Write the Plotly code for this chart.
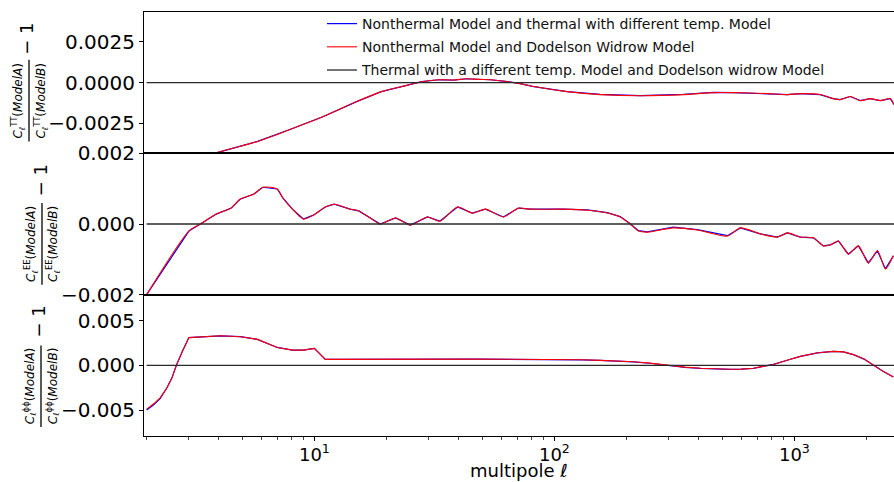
import plotly.graph_objects as go
from plotly.subplots import make_subplots

# ---------------- data ----------------
series_names = [
    "Nonthermal Model and thermal with different temp. Model",
    "Nonthermal Model and Dodelson Widrow Model",
    "Thermal with a different temp. Model and Dodelson widrow Model",
]

# TT panel
l_tt = [2, 3, 3.9, 5.8, 7.9, 10.9, 15, 19, 24, 28, 33, 38, 43, 48, 54, 64, 72, 82, 113, 155,
        228, 345, 460, 557, 772, 935, 1060, 1280, 1450, 1550, 1710, 1880, 2070, 2280, 2510, 2600]
tt_red = [-0.0060, -0.0050, -0.0043, -0.0036, -0.00287, -0.00207, -0.00116, -0.00055, -0.00018,
          0.00006, 0.00018, 0.00016, 0.00024, 0.00020, 0.00018, 0.00006, -0.00006, -0.00024,
          -0.00055, -0.00073, -0.00080, -0.00073, -0.00061, -0.00061, -0.00067, -0.00073,
          -0.00067, -0.00073, -0.00098, -0.00104, -0.00085, -0.00110, -0.00098, -0.00110,
          -0.00098, -0.00134]
tt_blue = [-0.0060, -0.0050, -0.0043, -0.0036, -0.00287, -0.00207, -0.00116, -0.00055, -0.00018,
           0.00006, 0.00018, 0.00016, 0.00024, 0.00020, 0.00018, 0.00006, -0.00006, -0.00024,
           -0.00055, -0.00072, -0.00079, -0.00072, -0.00060, -0.00061, -0.00067, -0.00073,
           -0.00067, -0.00073, -0.00098, -0.00104, -0.00085, -0.00110, -0.00098, -0.00110,
           -0.00098, -0.00134]
l_tt_k = [2, 10, 100, 200, 240, 300, 340, 380, 600, 1000, 2600]
tt_black = [0.0, 0.0, 0.0, 0.0, 0.00003, 0.0, 0.00004, 0.0, 0.0, 0.00001, 0.0]

# EE panel
l_ee = [2, 3, 3.35, 3.9, 4.5, 4.9, 5.6, 6.1, 7.0, 7.4, 8.1, 9.0, 9.9, 11.1, 12.1, 14.1, 15.3,
        17.1, 18.8, 21.8, 25.1, 29.6, 33.3, 39.5, 45.5, 51.6, 61.3, 70.8, 79.4, 109, 137, 166,
        188, 207, 224, 244, 313, 394, 526, 596, 721, 849, 935, 1059, 1200, 1321, 1413, 1524,
        1679, 1849, 2033, 2218, 2395, 2585]
ee_red = [-0.00200, -0.00020, 0.0, 0.00028, 0.00045, 0.00070, 0.00085, 0.00104, 0.00099,
          0.00073, 0.00042, 0.00014, 0.00025, 0.00048, 0.00056, 0.00042, 0.00037, 0.00017,
          0.0, 0.00017, -0.00003, 0.00020, 0.00008, 0.00048, 0.00031, 0.00042, 0.00020,
          0.00045, 0.00042, 0.00042, 0.00039, 0.00031, 0.00020, 0.0, -0.00020, -0.00023,
          -0.00011, -0.00017, -0.00034, -0.00011, -0.00028, -0.00037, -0.00025, -0.00037,
          -0.00039, -0.00062, -0.00059, -0.00048, -0.00085, -0.00062, -0.00110, -0.00076,
          -0.00127, -0.00090]
ee_blue = [-0.00200, -0.00020, 0.0, 0.00028, 0.00045, 0.00070, 0.00085, 0.00104, 0.00099,
           0.00073, 0.00042, 0.00014, 0.00025, 0.00048, 0.00056, 0.00042, 0.00037, 0.00017,
           0.0, 0.00017, -0.00003, 0.00020, 0.00008, 0.00048, 0.00031, 0.00042, 0.00020,
           0.00045, 0.00042, 0.00042, 0.00040, 0.00032, 0.00021, 0.00001, -0.00019, -0.00022,
           -0.00009, -0.00016, -0.00033, -0.00011, -0.00028, -0.00037, -0.00025, -0.00037,
           -0.00039, -0.00062, -0.00059, -0.00048, -0.00085, -0.00062, -0.00110, -0.00076,
           -0.00127, -0.00090]
l_ee_k = [2, 10, 100, 1000, 2600]
ee_black = [0.0, 0.0, 0.0, 0.0, 0.0]

# phi-phi panel
l_pp = [2, 2.14, 2.28, 2.43, 2.55, 2.66, 2.81, 3, 4.06, 4.92, 5.79, 7.0, 8.1, 9.0, 10, 11.1,
        48, 104, 130, 155, 180, 213, 250, 296, 350, 406, 470, 541, 600, 675, 740, 818, 940,
        1059, 1250, 1454, 1600, 1762, 1950, 2134, 2350, 2585]
pp_red = [-0.0049, -0.0043, -0.0036, -0.0025, -0.0014, 0.0, 0.0015, 0.0031, 0.0033, 0.0032,
          0.0029, 0.0020, 0.0017, 0.0017, 0.0019, 0.00067, 0.00070, 0.00067, 0.00063,
          0.00056, 0.00050, 0.00040, 0.00025, 0.0, -0.00020, -0.00033, -0.00040, -0.00044,
          -0.00042, -0.00033, -0.00012, 0.0001, 0.0006, 0.0010, 0.0014, 0.00156, 0.0015,
          0.0012, 0.0007, 0.0, -0.0007, -0.0013]
pp_blue = [-0.0050, -0.0044, -0.0037, -0.0025, -0.0014, 0.0, 0.0015, 0.0031, 0.0033, 0.0032,
           0.0029, 0.0020, 0.0017, 0.0017, 0.0019, 0.00067, 0.00069, 0.00066, 0.00062,
           0.00055, 0.00049, 0.00038, 0.00023, -0.00002, -0.00022, -0.00035, -0.00042,
           -0.00046, -0.00043, -0.00034, -0.00012, 0.0001, 0.0006, 0.0010, 0.0014, 0.00156,
           0.0015, 0.0012, 0.0007, 0.0, -0.0007, -0.0013]
l_pp_k = [2, 10, 100, 1000, 2600]
pp_black = [0.0, 0.0, 0.0, 0.0, 0.0]

x_ticks = [10, 100, 1000]
x_ticktext = ["10<sup>1</sup>", "10<sup>2</sup>", "10<sup>3</sup>"]
x_minor = [2, 3, 4, 5, 6, 7, 8, 9, 20, 30, 40, 50, 60, 70, 80, 90,
           200, 300, 400, 500, 600, 700, 800, 900, 2000]

y_ticks = [[-0.0025, 0.0, 0.0025], [-0.002, 0.0, 0.002], [-0.005, 0.0, 0.005]]
y_ticktext = [["\u22120.0025", "0.0000", "0.0025"],
              ["\u22120.002", "0.000", "0.002"],
              ["\u22120.005", "0.000", "0.005"]]
y_ranges = [[-0.00433, 0.00433], [-0.002, 0.002], [-0.0079, 0.0079]]
spectra = ["TT", "EE", "\u03d5\u03d5"]

# ---------------- figure ----------------
W, H = 894, 482
ML, MR, MT, MB = 144, 0, 10, 46
FONT = "DejaVu Sans"
colors = ["#0000ff", "#ff0000", "#2a2a2a"]
widths = [1.2, 1.1, 1.3]

fig = make_subplots(rows=3, cols=1, shared_xaxes=True, vertical_spacing=0)

panels = [
    (l_tt, tt_blue, tt_red, l_tt_k, tt_black, "spline"),
    (l_ee, ee_blue, ee_red, l_ee_k, ee_black, "spline"),
    (l_pp, pp_blue, pp_red, l_pp_k, pp_black, "linear"),
]
for r, (lx, yb, yr, lk, yk, shape) in enumerate(panels, start=1):
    data = [(lx, yb), (lx, yr), (lk, yk)]
    for i, (xx, yy) in enumerate(data):
        line = dict(color=colors[i], width=widths[i])
        if i == 1 and shape == "spline":
            line.update(shape="spline", smoothing=0.7)
        fig.add_trace(go.Scatter(
            x=xx, y=yy, mode="lines", name=series_names[i],
            legendgroup=f"g{i}", showlegend=(r == 1), line=line,
        ), row=r, col=1)

for r in range(1, 4):
    xa = dict(type="log", range=[0.29, 3.415], showline=True, mirror=True,
              linecolor="black", linewidth=1.2, showgrid=False, zeroline=False)
    if r == 3:
        xa.update(ticks="outside", ticklen=4, tickwidth=1, tickcolor="black",
                  tickmode="array", tickvals=x_ticks, ticktext=x_ticktext,
                  tickfont=dict(family=FONT, size=18, color="black"),
                  ticklabelstandoff=-2,
                  minor=dict(tickmode="array", tickvals=x_minor, ticks="outside",
                             ticklen=2.5, tickwidth=0.8, tickcolor="#444"))
    else:
        xa.update(ticks="", showticklabels=False)
    fig.update_xaxes(**xa, row=r, col=1)
    fig.update_yaxes(range=y_ranges[r - 1], tickmode="array", tickvals=y_ticks[r - 1],
                     ticktext=y_ticktext[r - 1], ticks="outside", ticklen=4, tickwidth=1,
                     tickcolor="black", showline=True, mirror=False, linecolor="black",
                     linewidth=1.2, showgrid=False, zeroline=False,
                     tickfont=dict(family=FONT, size=20, color="black"), row=r, col=1)


def px2x(px):
    return (px - ML) / (W - ML - MR)


def py2y(py):
    return (H - MB - py) / (H - MT - MB)


# y-axis labels drawn as rotated fractions
# (num_x, bar_x, den_x, frac_yc, minus1_x, minus1_y)
label_pos = [
    (18, 29, 41, 99, 27, 37),
    (31, 42, 53, 243, 40, 179),
    (30, 41, 53, 386, 39, 321),
]
annotations = []
shapes = []
for (nx, bx, dx, fy, mx, my), spec in zip(label_pos, spectra):
    num = f"<i>C</i><sub><i>\u2113</i></sub><sup>{spec}</sup>(<i>ModelA</i>)"
    den = f"<i>C</i><sub><i>\u2113</i></sub><sup>{spec}</sup>(<i>ModelB</i>)"
    for tx, t in ((nx, num), (dx, den)):
        annotations.append(dict(x=px2x(tx), y=py2y(fy), xref="paper", yref="paper",
                                text=t, textangle=-90, showarrow=False,
                                xanchor="center", yanchor="middle",
                                font=dict(family=FONT, size=12, color="black")))
    annotations.append(dict(x=px2x(mx), y=py2y(my), xref="paper", yref="paper",
                            text="\u2212 1", textangle=-90, showarrow=False,
                            xanchor="center", yanchor="middle",
                            font=dict(family=FONT, size=18, color="black")))
    shapes.append(dict(type="line", xref="paper", yref="paper",
                       x0=px2x(bx), x1=px2x(bx), y0=py2y(fy - 41), y1=py2y(fy + 41),
                       line=dict(color="black", width=1.3)))

# x-axis title as an annotation sitting at the bottom edge
annotations.append(dict(x=0.5, y=py2y(483), xref="paper", yref="paper",
                        text="multipole <i>\u2113</i>", showarrow=False,
                        xanchor="center", yanchor="bottom",
                        font=dict(family=FONT, size=18, color="black")))

fig.update_layout(
    width=W, height=H,
    margin=dict(l=ML, r=MR, t=MT, b=MB),
    paper_bgcolor="white", plot_bgcolor="white",
    font=dict(family=FONT, color="black"),
    showlegend=True,
    legend=dict(x=px2x(322), y=1.0 + 4 / 426, xanchor="left", yanchor="top",
                bgcolor="rgba(255,255,255,0)", borderwidth=0,
                font=dict(family=FONT, size=14, color="#111"),
                tracegroupgap=2, traceorder="grouped"),
    annotations=annotations,
    shapes=shapes,
)

fig.write_html("out.html")
